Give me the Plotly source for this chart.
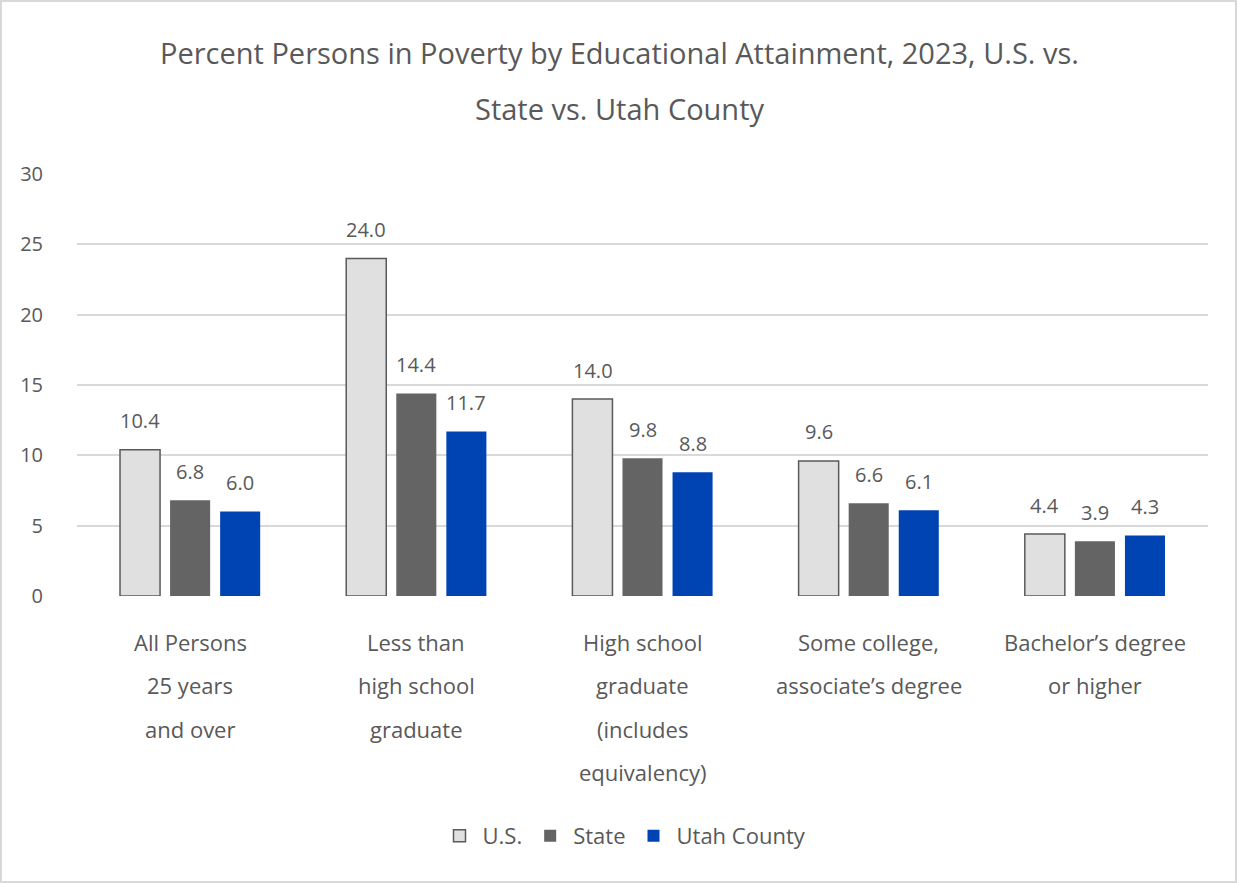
import plotly.graph_objects as go

categories = ["All Persons 25 years and over", "Less than high school graduate",
              "High school graduate (includes equivalency)",
              "Some college, associate's degree", "Bachelor's degree or higher"]
cat_lines = [["All Persons", "25 years", "and over"],
             ["Less than", "high school", "graduate"],
             ["High school", "graduate", "(includes", "equivalency)"],
             ["Some college,", "associate\u2019s degree"],
             ["Bachelor\u2019s degree", "or higher"]]
us = [10.4, 24.0, 14.0, 9.6, 4.4]
state = [6.8, 14.4, 9.8, 6.6, 3.9]
utah = [6.0, 11.7, 8.8, 6.1, 4.3]
title_lines = ["Percent Persons in Poverty by Educational Attainment, 2023, U.S. vs.",
               "State vs. Utah County"]

FONT = "Open Sans"
TXT = "#595959"

W, H = 1238, 883
L, R, T, B = 77, 30, 174, 287
pw, ph = W - L - R, H - T - B

fig = go.Figure()
fig.add_trace(go.Bar(x=categories, y=us, name="U.S.",
                     marker=dict(color="#e0e0e0", line=dict(color="#595959", width=1.5))))
fig.add_trace(go.Bar(x=categories, y=state, name="State",
                     marker=dict(color="#646464", line=dict(width=0))))
fig.add_trace(go.Bar(x=categories, y=utah, name="Utah County",
                     marker=dict(color="#0044b4", line=dict(width=0))))

# value labels above bars
for k, vals in enumerate([us, state, utah]):
    for c, v in zip(categories, vals):
        fig.add_annotation(x=c, y=v, xref="x", yref="y", text=f"{v:.1f}",
                           showarrow=False, xshift=(k - 1) * 50, yshift=29,
                           yanchor="middle", font=dict(family=FONT, size=20, color=TXT))

# category labels with wide line spacing
for c, lines in zip(categories, cat_lines):
    for i, ln in enumerate(lines):
        fig.add_annotation(x=c, y=0, xref="x", yref="y", text=ln, showarrow=False,
                           yshift=-(46 + 43.3 * i), yanchor="middle",
                           font=dict(family=FONT, size=22, color=TXT))

# title (two lines, wide spacing)
for ln, py in zip(title_lines, [52, 108]):
    fig.add_annotation(x=(W / 2 - L) / pw, y=(H - B - py) / ph, xref="paper", yref="paper",
                       text=ln, showarrow=False, yanchor="middle",
                       font=dict(family=FONT, size=29, color=TXT))

# outer border
fig.add_shape(type="rect", xref="paper", yref="paper",
              x0=(1 - L) / pw, x1=(W - 2 - L) / pw,
              y0=(H - B - (H - 1)) / ph, y1=(H - B - 1) / ph,
              line=dict(color="#d9d9d9", width=2), fillcolor="rgba(0,0,0,0)", layer="below")

fig.update_layout(
    width=W, height=H,
    margin=dict(l=L, r=R, t=T, b=B),
    paper_bgcolor="white", plot_bgcolor="white",
    barmode="group", bargap=0.336, bargroupgap=0.2,
    font=dict(family=FONT, color=TXT),
    showlegend=True,
    legend=dict(orientation="h", x=(624 - L) / pw, xanchor="center",
                y=(H - B - 836) / ph, yanchor="middle",
                font=dict(family=FONT, size=22, color=TXT), itemwidth=36, traceorder="normal"),
)
fig.update_xaxes(showticklabels=False, showgrid=False, zeroline=False, showline=False, ticks="")
fig.update_yaxes(range=[0, 30], dtick=5, showgrid=True, gridcolor="#d9d9d9", gridwidth=1.5,
                 zeroline=False, showline=False, ticks="", ticklabelstandoff=33,
                 tickfont=dict(family=FONT, size=20, color=TXT))

fig.write_html("out.html", config={"displayModeBar": False},
               post_script="document.body.style.margin='0';")
